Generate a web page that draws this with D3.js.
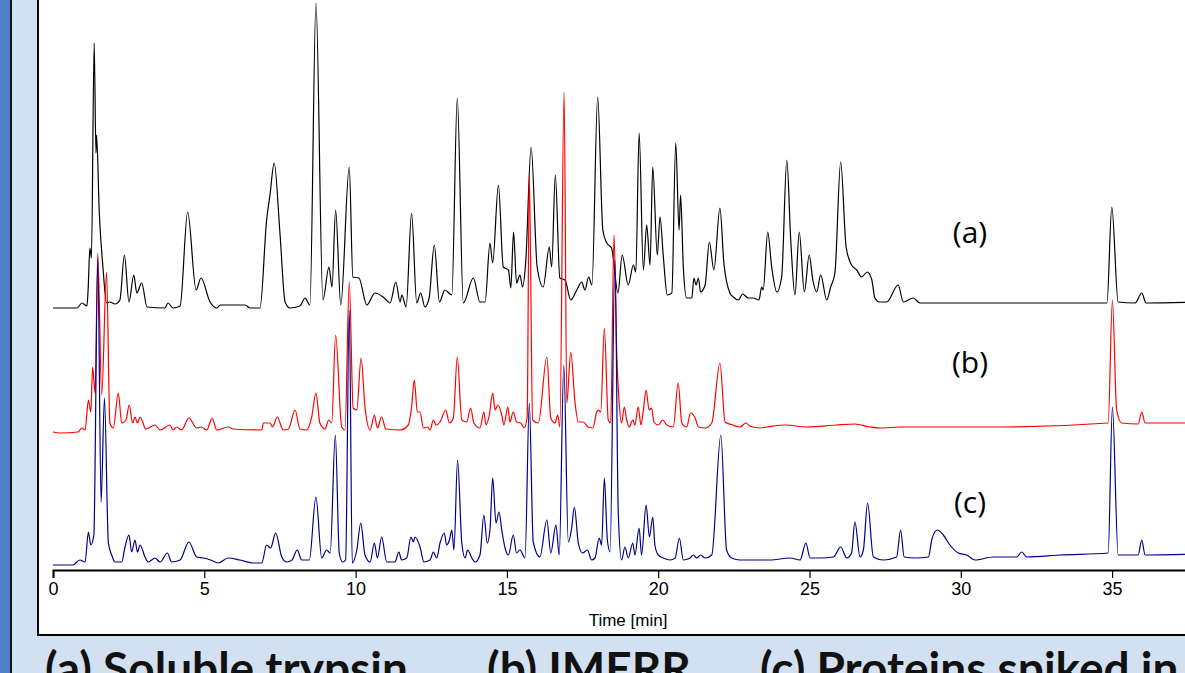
<!DOCTYPE html>
<html>
<head>
<meta charset="utf-8">
<script src="https://cdn.jsdelivr.net/npm/d3@7"></script>
<style>
  html, body { margin: 0; padding: 0; overflow: hidden; background: #d2e0f1; }
  svg { display: block; }
</style>
</head>
<body>
<script>
// chromatogram traces, [time (min), signal above own baseline]
var traceA = [[0,0],[0.79,0],[0.96,5],[1.12,2],[1.16,18],[1.22,60],[1.27,50],[1.36,265],[1.42,155],[1.44,173],[1.53,95],[1.65,41],[1.77,5],[1.88,6],[2.05,4],[2.21,8],[2.36,53],[2.51,6],[2.67,33],[2.77,15],[2.93,25],[3.11,1],[3.70,0],[3.80,5],[3.97,0],[4.20,2],[4.45,96],[4.73,18],[4.89,30],[5.19,6],[5.42,0],[5.52,3],[6.35,3],[6.51,0],[6.84,0],[7.06,88],[7.17,113],[7.31,145],[7.50,75],[7.67,6],[7.83,0],[8.16,2],[8.33,10],[8.49,3],[8.69,305],[8.92,8],[9.12,41],[9.22,21],[9.34,98],[9.51,3],[9.79,141],[9.91,31],[10.11,30],[10.37,3],[10.64,15],[10.91,11],[11.14,5],[11.33,26],[11.47,6],[11.53,13],[11.67,1],[11.85,95],[12.02,5],[12.15,15],[12.29,1],[12.43,10],[12.60,63],[12.77,6],[12.95,18],[13.18,13],[13.36,210],[13.56,5],[13.89,30],[14.11,6],[14.28,6],[14.44,65],[14.53,45],[14.72,123],[14.88,41],[15.05,38],[15.13,20],[15.22,76],[15.32,25],[15.43,33],[15.52,21],[15.62,45],[15.80,161],[16.00,41],[16.20,21],[16.40,61],[16.48,41],[16.60,133],[16.75,30],[16.92,28],[17.11,8],[17.31,18],[17.47,26],[17.58,18],[17.70,31],[17.81,23],[18.00,211],[18.17,78],[18.30,65],[18.46,60],[18.51,51],[18.67,15],[18.81,53],[19.01,23],[19.18,43],[19.26,36],[19.37,175],[19.51,38],[19.62,83],[19.73,43],[19.82,141],[19.97,53],[20.06,91],[20.17,51],[20.30,13],[20.45,15],[20.58,165],[20.69,78],[20.74,113],[20.83,41],[20.94,10],[21.11,10],[21.18,30],[21.25,23],[21.33,30],[21.40,16],[21.55,23],[21.69,66],[21.84,38],[22.04,100],[22.17,45],[22.37,15],[22.48,11],[22.65,8],[22.79,14],[22.98,10],[23.14,10],[23.33,8],[23.42,21],[23.47,18],[23.62,76],[23.75,41],[23.92,16],[24.08,31],[24.25,148],[24.38,68],[24.52,13],[24.66,76],[24.83,16],[24.99,53],[25.11,28],[25.24,16],[25.37,33],[25.57,8],[25.70,21],[25.84,35],[26.03,146],[26.21,61],[26.39,43],[26.56,38],[26.72,31],[26.91,36],[27.06,28],[27.16,10],[27.31,6],[27.55,6],[27.93,23],[28.10,6],[28.43,10],[28.65,5],[31.30,5],[34.83,5],[34.99,101],[35.20,6],[35.76,5],[35.98,15],[36.12,5],[38,6]];

var traceB = [[0,0],[0.23,-1],[0.83,0],[0.95,4],[1.06,2],[1.17,32],[1.25,20],[1.31,65],[1.39,39],[1.48,179],[1.61,37],[1.77,160],[1.88,9],[1.99,4],[2.16,39],[2.27,9],[2.41,12],[2.52,27],[2.63,9],[2.71,15],[2.79,9],[2.88,15],[3.07,3],[3.37,7],[3.54,2],[3.87,7],[3.96,2],[4.09,5],[4.25,2],[4.49,14],[4.75,4],[4.91,5],[5.08,2],[5.26,14],[5.41,2],[5.79,5],[5.96,3],[6.90,2],[6.95,9],[7.17,9],[7.26,5],[7.41,15],[7.61,2],[7.78,3],[8.00,22],[8.16,3],[8.38,2],[8.55,15],[8.69,39],[8.82,9],[8.99,3],[9.11,12],[9.21,9],[9.34,97],[9.54,5],[9.65,2],[9.79,150],[9.92,24],[10.04,22],[10.18,74],[10.31,25],[10.48,2],[10.62,17],[10.72,4],[10.86,15],[11.00,3],[11.47,2],[11.74,7],[11.85,25],[11.94,52],[12.04,20],[12.13,20],[12.24,4],[12.38,5],[12.46,2],[12.57,12],[12.66,7],[12.79,10],[12.98,22],[13.10,9],[13.23,14],[13.36,75],[13.51,12],[13.67,10],[13.80,24],[13.91,9],[14.11,4],[14.24,20],[14.31,7],[14.42,17],[14.53,39],[14.61,22],[14.70,27],[14.83,17],[14.90,7],[15.03,25],[15.10,10],[15.21,20],[15.32,10],[15.46,9],[15.57,4],[15.67,15],[15.74,257],[15.85,12],[16.04,9],[16.32,75],[16.45,14],[16.59,9],[16.68,17],[16.75,5],[16.89,340],[16.98,29],[17.11,80],[17.25,30],[17.36,10],[17.52,10],[17.69,5],[17.84,4],[17.97,20],[18.02,22],[18.10,20],[18.22,104],[18.35,12],[18.43,9],[18.54,197],[18.63,79],[18.71,29],[18.79,9],[18.88,25],[18.96,12],[19.04,5],[19.16,12],[19.23,7],[19.34,25],[19.43,7],[19.51,22],[19.60,42],[19.70,22],[19.78,24],[19.86,10],[20.00,7],[20.15,12],[20.28,7],[20.50,5],[20.66,49],[20.78,9],[20.94,5],[21.07,19],[21.22,14],[21.33,5],[21.55,4],[21.77,9],[22.04,69],[22.21,10],[22.46,7],[22.70,5],[22.90,9],[23.03,6],[23.36,4],[23.59,5],[24.21,7],[24.91,5],[25.88,7],[26.50,8],[27.00,5],[27.33,4],[27.99,5],[31.30,5],[34.87,9],[35.01,132],[35.15,22],[35.32,9],[35.86,8],[35.98,20],[36.09,9],[38,9]];

var traceC = [[0,0],[0.66,0],[0.89,5],[1.06,3],[1.17,33],[1.25,20],[1.35,30],[1.48,305],[1.59,63],[1.70,167],[1.83,22],[1.94,10],[2.05,3],[2.27,3],[2.38,18],[2.51,30],[2.60,13],[2.71,25],[2.79,13],[2.88,20],[3.04,8],[3.15,3],[3.37,7],[3.54,3],[3.78,12],[3.92,3],[4.20,5],[4.49,23],[4.75,8],[4.97,7],[5.21,5],[5.46,2],[5.79,7],[6.18,5],[6.62,2],[6.90,2],[7.06,20],[7.19,17],[7.36,32],[7.56,8],[7.72,3],[7.90,5],[8.07,15],[8.22,5],[8.47,5],[8.69,68],[8.88,7],[9.04,15],[9.16,12],[9.33,130],[9.46,12],[9.57,3],[9.67,5],[9.79,255],[9.89,2],[10.04,15],[10.17,42],[10.31,10],[10.48,3],[10.62,22],[10.72,7],[10.86,28],[11.03,3],[11.30,3],[11.43,13],[11.52,5],[11.69,7],[11.83,28],[11.91,23],[11.96,28],[12.13,18],[12.26,3],[12.46,5],[12.57,13],[12.68,7],[12.79,22],[12.93,32],[13.01,20],[13.10,25],[13.18,35],[13.25,15],[13.37,105],[13.51,22],[13.62,7],[13.70,15],[13.84,7],[13.95,3],[14.11,10],[14.24,50],[14.35,22],[14.44,35],[14.53,87],[14.64,42],[14.74,53],[14.83,35],[14.94,17],[15.05,10],[15.21,30],[15.32,12],[15.43,15],[15.60,7],[15.74,162],[15.87,23],[16.09,8],[16.32,45],[16.45,12],[16.62,40],[16.73,10],[16.88,200],[17.03,23],[17.14,37],[17.23,58],[17.36,22],[17.50,12],[17.66,15],[17.80,5],[17.91,7],[18.05,27],[18.13,20],[18.22,87],[18.32,25],[18.41,13],[18.57,305],[18.68,52],[18.79,5],[18.90,18],[19.01,7],[19.16,22],[19.23,10],[19.37,37],[19.45,10],[19.60,60],[19.71,28],[19.82,48],[19.89,20],[20.00,10],[20.17,7],[20.39,5],[20.56,7],[20.70,27],[20.83,5],[21.05,7],[21.16,10],[21.28,7],[21.40,10],[21.55,7],[21.77,10],[22.07,130],[22.26,15],[22.43,7],[22.70,5],[23.69,5],[24.36,7],[24.69,5],[24.88,22],[25.02,7],[25.35,7],[25.79,8],[26.03,18],[26.23,7],[26.39,12],[26.50,43],[26.67,8],[26.78,15],[26.92,62],[27.11,8],[27.44,5],[27.88,8],[28.01,35],[28.13,8],[28.49,7],[28.93,8],[29.04,25],[29.22,35],[29.42,30],[29.64,20],[29.92,12],[30.19,10],[30.47,5],[31.07,8],[31.85,8],[32.01,13],[32.18,8],[33.28,10],[34.87,12],[35.01,158],[35.20,10],[35.86,10],[35.98,25],[36.09,10],[38,11]];

var traceNames = ["(a)", "(b)", "(c)"];
var traceOffsets = [257, 133, 0];
var traceColors = ["#000000", "#ff0000", "#000088"];
var xTicks = [0, 5, 10, 15, 20, 25, 30, 35];
var xTitle = "Time [min]";
var captions = ["(a) Soluble trypsin", "(b) IMERR", "(c) Proteins spiked in"];

var W = 1185, H = 673;

var svg = d3.select("body").append("svg")
    .attr("width", W)
    .attr("height", H);

// slide background pieces
svg.append("rect").attr("x", 0).attr("y", 0).attr("width", W).attr("height", H).attr("fill", "#d2e0f1");
svg.append("rect").attr("x", 0).attr("y", 0).attr("width", 10).attr("height", H).attr("fill", "#4f80c6");
svg.append("rect").attr("x", 10).attr("y", 0).attr("width", 2).attr("height", H).attr("fill", "#111");

// white plot panel
svg.append("rect")
    .attr("x", 38).attr("y", -10)
    .attr("width", W).attr("height", 645)
    .attr("fill", "#fff")
    .attr("stroke", "#000")
    .attr("stroke-width", 2);

var x = d3.scaleLinear().domain([0, 40]).range([53, 53 + 40 * 30.26]);
var y = d3.scaleLinear().domain([0, 600]).range([565, -35]);

svg.append("clipPath").attr("id", "clip")
  .append("rect").attr("x", 39).attr("y", 0).attr("width", W).attr("height", 634);

var line = d3.line()
    .curve(d3.curveMonotoneX);

var plot = svg.append("g").attr("clip-path", "url(#clip)");

[traceA, traceB, traceC].forEach(function (tr, i) {
    plot.append("path")
        .datum(tr)
        .attr("fill", "none")
        .attr("stroke", traceColors[i])
        .attr("stroke-width", 1.2)
        .attr("stroke-linejoin", "round")
        .attr("d", line.x(function (d) { return x(d[0]); })
                       .y(function (d) { return y(d[1] + traceOffsets[i]); }));
});

// trace labels
var labelY = [243, 373, 513];
svg.append("g").selectAll("text")
    .data(traceNames)
    .join("text")
    .attr("x", 970)
    .attr("y", function (d, i) { return labelY[i]; })
    .attr("text-anchor", "middle")
    .attr("font-family", "Open Sans, sans-serif")
    .attr("font-size", 30)
    .attr("fill", "#000")
    .text(function (d) { return d; });

// x axis
var xAxis = svg.append("g")
    .attr("transform", "translate(0,570)")
    .call(d3.axisBottom(x).tickValues(xTicks).tickSize(8).tickSizeOuter(8).tickPadding(4));
xAxis.select(".domain").attr("stroke-width", 2);
xAxis.selectAll(".tick line").attr("stroke-width", 1.2);
xAxis.selectAll(".tick text")
    .attr("font-family", "Liberation Sans, Arial, sans-serif")
    .attr("font-size", 18)
    .attr("fill", "#000");

svg.append("text")
    .attr("x", 628)
    .attr("y", 626)
    .attr("text-anchor", "middle")
    .attr("font-family", "Liberation Sans, Arial, sans-serif")
    .attr("font-size", 17)
    .text(xTitle);

// caption line under the panel
var capX = [45, 487, 760];
svg.append("g").selectAll("text")
    .data(captions)
    .join("text")
    .attr("x", function (d, i) { return capX[i]; })
    .attr("y", 685)
    .attr("font-family", "Lato, sans-serif")
    .attr("font-weight", "bold")
    .attr("font-size", 46)
    .attr("fill", "#111")
    .text(function (d) { return d; });
</script>
</body>
</html>
